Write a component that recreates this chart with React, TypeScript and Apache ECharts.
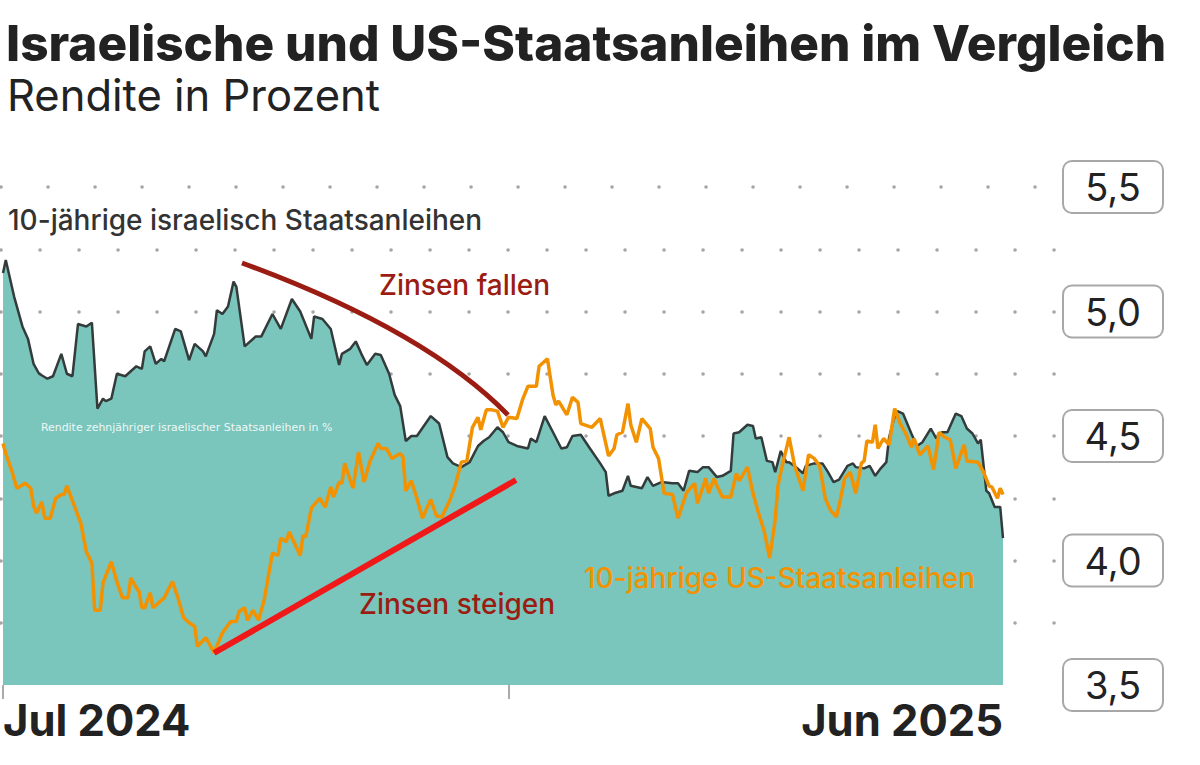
import React, { useEffect, useRef } from "react";
import * as echarts from "echarts";

// x values: days since 1 Jul 2024
const israelDays = [0,1,4,7,9,11,13,16,18,21,23,25,27,30,32,34,36,37,39,41,44,48,50,51,53,55,57,58,62,64,67,69,72,73,76,77,79,81,83,84,87,91,93,97,100,104,107,111,112,115,118,121,122,125,127,129,131,134,136,139,141,143,145,147,149,154,157,160,162,165,168,171,173,175,178,180,182,185,189,190,192,195,198,201,203,205,208,211,215,217,218,220,223,225,226,230,232,234,237,241,243,245,247,250,252,254,257,259,262,263,265,268,270,271,273,275,277,278,280,282,283,286,288,289,292,295,297,299,301,304,306,307,310,312,314,316,318,319,321,322,324,327,329,331,334,336,338,340,343,345,347,349,351,352,354,355,357,359,360];
const israelYield = [5.155,5.207,5.06,4.94,4.89,4.79,4.75,4.73,4.74,4.83,4.75,4.74,4.95,4.94,4.955,4.61,4.65,4.64,4.65,4.75,4.74,4.78,4.77,4.84,4.86,4.79,4.81,4.80,4.93,4.92,4.805,4.87,4.84,4.82,4.91,5.005,4.99,5.02,5.12,5.10,4.86,4.90,4.90,4.99,4.93,5.05,5.00,4.89,4.98,4.97,4.93,4.785,4.83,4.85,4.88,4.83,4.785,4.83,4.825,4.75,4.665,4.62,4.48,4.50,4.50,4.58,4.55,4.415,4.39,4.375,4.395,4.46,4.48,4.495,4.535,4.515,4.475,4.46,4.45,4.49,4.475,4.58,4.515,4.45,4.455,4.50,4.505,4.455,4.39,4.355,4.26,4.27,4.28,4.34,4.30,4.29,4.335,4.30,4.315,4.31,4.31,4.28,4.36,4.355,4.375,4.375,4.335,4.34,4.36,4.51,4.515,4.545,4.54,4.49,4.495,4.40,4.395,4.355,4.44,4.395,4.395,4.37,4.35,4.38,4.39,4.39,4.355,4.315,4.325,4.38,4.39,4.375,4.37,4.38,4.34,4.37,4.395,4.495,4.58,4.60,4.59,4.51,4.46,4.475,4.53,4.49,4.515,4.515,4.59,4.58,4.53,4.51,4.47,4.485,4.28,4.27,4.215,4.215,4.09];

const usDays = [0,1,3,5,8,10,11,12,14,15,17,19,21,22,23,26,28,30,32,33,35,36,39,41,43,45,46,48,49,50,51,53,54,56,58,61,63,65,67,69,70,73,76,79,82,84,85,87,88,90,92,94,97,99,100,102,103,107,108,109,111,114,116,118,119,121,122,123,126,128,130,132,135,136,138,140,143,144,145,147,149,151,154,156,158,161,163,165,167,169,171,172,174,176,178,180,182,185,187,189,192,193,196,198,199,200,203,205,207,208,212,215,218,220,221,223,225,226,228,230,233,234,236,238,241,243,246,247,249,250,253,254,256,257,259,262,264,265,268,270,272,274,276,278,279,280,283,285,288,290,292,294,296,298,300,301,303,305,307,309,310,311,313,314,315,317,319,321,323,325,327,328,330,333,335,337,339,341,343,346,347,351,353,355,356,358,359,360];
const usYield = [4.47,4.43,4.365,4.29,4.31,4.29,4.22,4.19,4.235,4.17,4.17,4.25,4.265,4.265,4.30,4.21,4.15,4.035,3.99,3.80,3.80,3.91,3.995,3.915,3.85,3.85,3.93,3.89,3.875,3.81,3.81,3.87,3.81,3.83,3.85,3.915,3.85,3.77,3.75,3.735,3.655,3.69,3.63,3.71,3.755,3.755,3.795,3.81,3.76,3.80,3.76,3.84,4.03,4.02,4.09,4.075,4.115,4.02,4.10,4.095,4.21,4.25,4.215,4.295,4.255,4.315,4.31,4.39,4.29,4.435,4.315,4.395,4.47,4.45,4.45,4.41,4.43,4.415,4.28,4.32,4.25,4.17,4.245,4.18,4.175,4.245,4.31,4.395,4.40,4.535,4.575,4.525,4.605,4.605,4.60,4.535,4.575,4.57,4.645,4.70,4.70,4.78,4.81,4.665,4.625,4.64,4.585,4.655,4.635,4.55,4.535,4.57,4.42,4.45,4.505,4.515,4.63,4.545,4.475,4.57,4.53,4.455,4.41,4.27,4.265,4.17,4.27,4.285,4.31,4.23,4.33,4.27,4.33,4.30,4.255,4.255,4.35,4.32,4.375,4.27,4.19,4.12,4.01,4.165,4.30,4.355,4.495,4.38,4.28,4.425,4.41,4.38,4.25,4.20,4.175,4.22,4.33,4.355,4.27,4.39,4.40,4.48,4.475,4.545,4.45,4.49,4.465,4.61,4.55,4.51,4.455,4.49,4.425,4.46,4.365,4.515,4.495,4.485,4.37,4.465,4.40,4.395,4.355,4.30,4.295,4.25,4.29,4.265];

const xTicks = [0, 182];
const xLabels = ["Jul 2024", "Jun 2025"];
const yLabelValues = [3.5, 4.0, 4.5, 5.0, 5.5];

const TITLE = "Israelische und US-Staatsanleihen im Vergleich";
const SUBTITLE = "Rendite in Prozent";

const FONT = "Inter, 'Noto Sans', sans-serif";

export default function App() {
  const ref = useRef<HTMLDivElement>(null);
  useEffect(() => {
    if (!ref.current) return;
    const chart = echarts.init(ref.current, null, { renderer: "svg" });
    const lastDay = israelDays[israelDays.length - 1];
    const isr = israelDays.map((d, i) => [d, israelYield[i]]);
    const us = usDays.map((d, i) => [d, usYield[i]]);
    chart.setOption({
      animation: false,
      backgroundColor: "#ffffff",
      textStyle: { fontFamily: FONT },
      grid: [
        { left: 1, top: 187, width: 1055, height: 498 },
        { left: 3, top: 187, width: 1000, height: 498 },
      ],
      xAxis: [
        { gridIndex: 0, type: "value", min: 0, max: 1, show: false },
        {
          gridIndex: 1,
          type: "value",
          min: 0,
          max: lastDay,
          interval: lastDay,
          axisLine: { show: false },
          splitLine: { show: false },
          axisTick: {
            show: true,
            customValues: xTicks,
            length: 14,
            lineStyle: { color: "#aaaaaa", width: 2 },
          },
          axisLabel: {
            show: true,
            margin: 13,
            fontSize: 43.5,
            fontWeight: 700,
            color: "#222222",
            fontFamily: FONT,
            alignMinLabel: "left",
            alignMaxLabel: "right",
            formatter: (v: number) => (v === 0 ? xLabels[0] : xLabels[1]),
          },
        },
      ],
      yAxis: [
        {
          gridIndex: 0,
          type: "value",
          min: 3.5,
          max: 5.5,
          interval: 0.25,
          axisLine: { show: false },
          axisTick: { show: false },
          axisLabel: { show: false },
          splitLine: {
            show: true,
            showMinLine: false,
            showMaxLine: false,
            lineStyle: { color: "#a6a6a6", width: 3.5, type: [0.1, 38.9], cap: "round" },
          },
        },
        {
          gridIndex: 1,
          type: "value",
          position: "right",
          min: 3.5,
          max: 5.5,
          interval: 0.5,
          axisLine: { show: false },
          axisTick: { show: false },
          splitLine: { show: false },
          axisLabel: {
            show: true,
            customValues: yLabelValues,
            margin: 110,
            align: "center",
            verticalAlign: "middle",
            fontSize: 38,
            color: "#222222",
            fontFamily: FONT,
            backgroundColor: "#ffffff",
            borderColor: "#a8a8a8",
            borderWidth: 2,
            borderRadius: 8,
            width: 98,
            height: 50,
            lineHeight: 50,
            formatter: (v: number) => v.toFixed(1).replace(".", ","),
          },
        },
      ],
      series: [
        {
          type: "line",
          xAxisIndex: 0,
          yAxisIndex: 0,
          data: [[0, 3.5]],
          showSymbol: false,
          lineStyle: { width: 0 },
          silent: true,
          markLine: {
            silent: true,
            symbol: "none",
            label: { show: false },
            lineStyle: { color: "#a6a6a6", width: 3.5, type: [0.1, 46.9], cap: "round" },
            data: [{ yAxis: 5.5 }],
          },
        },
        {
          type: "line",
          xAxisIndex: 1,
          yAxisIndex: 1,
          data: isr,
          showSymbol: false,
          lineStyle: { color: "#333b3b", width: 2.5 },
          areaStyle: { color: "#7ac5bc", opacity: 1, origin: "start" },
          z: 2,
        },
        {
          type: "line",
          xAxisIndex: 1,
          yAxisIndex: 1,
          data: us,
          showSymbol: false,
          lineStyle: { color: "#f39200", width: 3.5 },
          z: 3,
        },
      ],
      graphic: [
        {
          type: "text", z: 100, left: 6, top: 18,
          style: { text: TITLE, fontSize: 49.5, fontWeight: 800, fill: "#222222", fontFamily: FONT },
        },
        {
          type: "text", z: 100, left: 7, top: 73,
          style: { text: SUBTITLE, fontSize: 43.5, fontWeight: 400, fill: "#222222", fontFamily: FONT },
        },
        {
          type: "text", z: 100, x: 8, y: 220,
          style: { text: "10-jährige israelisch Staatsanleihen", fontSize: 28, fontWeight: 500, fill: "#333333", fontFamily: FONT, verticalAlign: "middle" },
        },
        {
          type: "text", z: 100, x: 379, y: 285,
          style: { text: "Zinsen fallen", fontSize: 28, fontWeight: 500, fill: "#9b1c12", fontFamily: FONT, verticalAlign: "middle" },
        },
        {
          type: "text", z: 100, x: 359, y: 604,
          style: { text: "Zinsen steigen", fontSize: 28, fontWeight: 500, fill: "#9b1c12", fontFamily: FONT, verticalAlign: "middle" },
        },
        {
          type: "text", z: 100, x: 584, y: 578,
          style: { text: "10-jährige US-Staatsanleihen", fontSize: 28, fontWeight: 500, fill: "#f39200", fontFamily: FONT, verticalAlign: "middle" },
        },
        {
          type: "text", z: 100, x: 41, y: 427,
          style: { text: "Rendite zehnjähriger israelischer Staatsanleihen in %", fontSize: 10.9, fill: "#eef8f6", fontFamily: "'DejaVu Sans', Verdana, sans-serif", verticalAlign: "middle" },
        },
        {
          type: "line", z: 101,
          shape: { x1: 214, y1: 653, x2: 516, y2: 480 },
          style: { stroke: "#f01818", lineWidth: 6 },
        },
        {
          type: "bezierCurve", z: 101,
          shape: { x1: 242, y1: 263, cpx1: 425, cpy1: 330, x2: 508, y2: 415 },
          style: { stroke: "#9b1c12", lineWidth: 5, fill: "none" },
        },
      ],
    });
    return () => chart.dispose();
  }, []);
  return (
    <div
      ref={ref}
      style={{ position: "fixed", left: 0, top: 0, width: 1200, height: 765, background: "#fff" }}
    />
  );
}
